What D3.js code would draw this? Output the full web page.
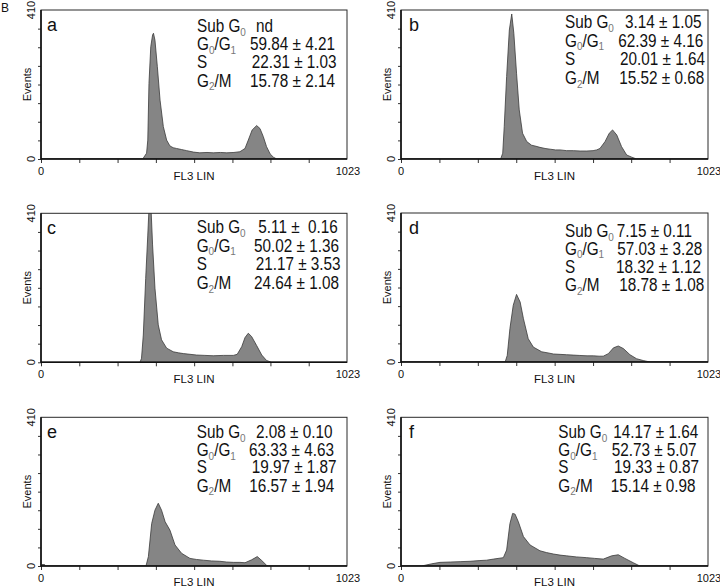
<!DOCTYPE html>
<html><head><meta charset="utf-8">
<script src="https://cdn.jsdelivr.net/npm/d3@7"></script>
<style>body{margin:0;background:#fff}svg{display:block}text{font-family:"Liberation Sans",Arial,sans-serif}</style>
</head><body><svg id="chart" width="720" height="588"></svg>
<script>
// ---------- data ----------
const panelLetters = ["a","b","c","d","e","f"];
const subG0Values = ["nd","3.14 ± 1.05","5.11 ±  0.16","7.15 ± 0.11","2.08 ± 0.10","14.17 ± 1.64"];
const g0g1Values  = ["59.84 ± 4.21","62.39 ± 4.16","50.02 ± 1.36","57.03 ± 3.28","63.33 ± 4.63","52.73 ± 5.07"];
const sValues     = ["22.31 ± 1.03","20.01 ± 1.64","21.17 ± 3.53","18.32 ± 1.12","19.97 ± 1.87","19.33 ± 0.87"];
const g2mValues   = ["15.78 ± 2.14","15.52 ± 0.68","24.64 ± 1.08","18.78 ± 1.08","16.57 ± 1.94","15.14 ± 0.98"];

const xDomain = [0, 1023];
const yDomain = [0, 410];
const xTickValues = [128, 256, 384, 512, 640, 767, 895];
const yTickValues = [51.25, 102.5, 153.75, 205, 256.25, 307.5, 358.75];
const xAxisTitle = "FL3 LIN";
const yAxisTitle = "Events";

// FL3 channel / events pairs
const aChannel = [0,340,353,357,361,367,373,376,381,389,398,409,420,431,442,453,470,487,510,531,555,576,600,621,645,665,682,693,706,721,732,743,754,766,777,788,1023];
const aEvents  = [0,0,16,52,208,309,341,346,327,254,162,89,52,36,31,29,26,23,19,17,18,17,18,17,18,20,29,52,80,92,84,62,34,14,5,0,0];
const bChannel = [0,332,339,344,352,361,369,376,385,394,405,419,435,450,463,480,497,515,530,552,574,597,619,640,652,663,680,694,705,719,735,752,769,785,1023];
const bEvents  = [0,0,16,89,227,355,399,346,236,135,71,48,38,35,32,29,27,25,25,23,23,22,22,23,25,29,48,71,80,66,34,11,5,0,0];
const cChannel = [0,331,336,342,350,357,362,367,373,381,392,403,420,442,460,476,498,520,548,576,610,643,656,671,682,693,704,721,738,754,771,1023];
const cEvents  = [0,0,11,75,231,350,440,440,323,204,103,62,39,29,26,24,22,20,19,18,19,19,22,43,68,80,71,46,20,5,0,0];
const dChannel = [0,347,354,363,374,385,397,408,424,441,469,490,508,530,552,574,596,620,641,660,674,691,708,724,741,763,785,807,830,1023];
const dEvents  = [0,0,18,92,156,186,165,119,64,41,28,25,22,21,20,19,18,17,17,16,16,23,39,44,37,20,9,4,0,0];
const eChannel = [0,1,3,12,14,351,359,370,381,392,403,415,431,448,470,498,520,543,570,598,620,643,665,682,704,723,738,754,760,1023];
const eEvents  = [0,3,4,4,0,0,26,117,154,173,154,122,99,58,35,21,18,16,14,13,11,10,10,9,17,26,15,2,0,0];
const fChannel = [0,69,102,130,165,197,230,263,285,308,341,352,363,372,380,391,408,430,463,485,508,530,552,585,619,645,674,702,724,746,774,791,796,1023];
const fEvents  = [0,0,6,10,11,12,13,15,16,19,23,44,117,145,143,122,81,58,42,37,33,30,28,25,23,21,19,28,31,21,9,2,0,0];

const channels = [aChannel,bChannel,cChannel,dChannel,eChannel,fChannel];
const events   = [aEvents,bEvents,cEvents,dEvents,eEvents,fEvents];

// ---------- layout ----------
const layout = [
  {x:41,  y:10,    w:306, h:149, labX:156,   valX:[215,209,210.7,209],     rowY:[22.3,40,58.3,76.7]},
  {x:401, y:10,    w:307, h:149, labX:164,   valX:[224,217.3,219,218.3],   rowY:[18.3,36.7,55,74]},
  {x:41,  y:213.3, w:306, h:149, labX:155.7, valX:[217.3,213,214.7,213],   rowY:[20,38.3,56.7,75.7]},
  {x:401, y:213,   w:307, h:149, labX:164,   valX:[215.7,216.3,215,218.3], rowY:[24.4,41.7,60,78.4]},
  {x:41,  y:417.3, w:306, h:148.7, labX:155.7, valX:[215,208,210.7,208.3], rowY:[21,38.7,56,74.4]},
  {x:401, y:417.3, w:307, h:148.7, labX:157.3, valX:[212.3,210.7,213,209.7], rowY:[21,38.7,56,74.4]}
];
const statFont = 15.3, subFont = 10, tickFont = 11, statStretch = 1.14;

const svg = d3.select("#chart");
svg.append("rect").attr("width",720).attr("height",588).attr("fill","#fff");
svg.append("text").attr("x",1).attr("y",11.5).attr("font-size",12).attr("fill","#111").text("B");

const defs = svg.append("defs");

panelLetters.forEach((letter, i) => {
  const L = layout[i];
  const x = d3.scaleLinear().domain(xDomain).range([0, L.w]);
  const y = d3.scaleLinear().domain(yDomain).range([L.h, 0]);
  const g = svg.append("g").attr("transform", `translate(${L.x},${L.y})`);

  defs.append("clipPath").attr("id","clip"+i)
    .append("rect").attr("x",0).attr("y",0).attr("width",L.w).attr("height",L.h);

  const data = channels[i].map((c, k) => [c, events[i][k]]);
  const area = d3.area().x(d => x(d[0])).y0(y(0)).y1(d => y(d[1]));
  g.append("path").datum(data).attr("d", area)
    .attr("clip-path", `url(#clip${i})`)
    .attr("fill", "#858585").attr("stroke", "#3a3a3a").attr("stroke-width", 0.8);

  // frame
  g.append("rect").attr("x",0).attr("y",0).attr("width",L.w).attr("height",L.h)
    .attr("fill","none").attr("stroke","#2a2a2a").attr("stroke-width",1);

  // axes
  const yAx = g.append("g").call(d3.axisLeft(y).tickValues([0, ...yTickValues]).tickSize(3).tickFormat(""));
  const xAx = g.append("g").attr("transform",`translate(0,${L.h})`)
    .call(d3.axisBottom(x).tickValues([0, ...xTickValues]).tickSize(4).tickFormat(""));
  [yAx, xAx].forEach(a => {
    a.select(".domain").remove();
    a.selectAll("line").attr("stroke","#333").attr("stroke-width",1);
  });
  g.append("line").attr("x1",0).attr("x2",0).attr("y1",0).attr("y2",L.h+0.5)
    .attr("stroke","#111").attr("stroke-width",1.6);
  g.append("line").attr("x1",0).attr("x2",L.w).attr("y1",L.h).attr("y2",L.h)
    .attr("stroke","#111").attr("stroke-width",1.6);

  // y labels (rotated)
  const ylab = (txt, yy, anchor) => g.append("text")
    .attr("transform", `translate(-6,${yy}) rotate(-90)`)
    .attr("text-anchor", anchor).attr("font-size", tickFont).attr("fill","#111").text(txt);
  ylab(String(yDomain[1]), y(yDomain[1]), "middle");
  ylab(String(yDomain[0]), y(yDomain[0]), "middle");
  g.append("text").attr("transform", `translate(-10.5,${L.h/2}) rotate(-90)`)
    .attr("text-anchor","middle").attr("font-size", tickFont).attr("fill","#111").text(yAxisTitle);

  // x labels
  g.append("text").attr("x", x(xDomain[0])).attr("y", L.h+16).attr("text-anchor","middle")
    .attr("font-size", tickFont).attr("fill","#111").text(String(xDomain[0]));
  g.append("text").attr("x", x(xDomain[1])+1).attr("y", L.h+16).attr("text-anchor","middle")
    .attr("font-size", tickFont).attr("fill","#111").text(String(xDomain[1]));
  g.append("text").attr("x", L.w/2).attr("y", L.h+20.5).attr("text-anchor","middle")
    .attr("font-size", 11.5).attr("fill","#111").text(xAxisTitle);

  // panel letter
  g.append("text").attr("x", i % 2 ? 8 : 6).attr("y", 21).attr("font-size", 18)
    .attr("fill","#111").text(letter);

  // stats
  const labels = [
    [["Sub G",false],["0",true]],
    [["G",false],["0",true],["/G",false],["1",true]],
    [["S",false]],
    [["G",false],["2",true],["/M",false]]
  ];
  const vals = [subG0Values[i], g0g1Values[i], sValues[i], g2mValues[i]];
  labels.forEach((parts, r) => {
    const lg = g.append("g").attr("transform", `translate(${L.labX},${L.rowY[r]}) scale(1,${statStretch})`);
    const t = lg.append("text").attr("x", 0).attr("y", 0)
      .attr("font-size", statFont).attr("fill","#111");
    parts.forEach(([s, sub], k) => {
      const ts = t.append("tspan").text(s);
      if (sub) ts.attr("font-size", subFont).attr("dy", 3.2).attr("fill","#777");
      else ts.attr("dy", k > 0 ? -3.2 : 0);
    });
    g.append("g").attr("transform", `translate(${L.valX[r]},${L.rowY[r]}) scale(1,${statStretch})`)
      .append("text").attr("x", 0).attr("y", 0)
      .attr("font-size", statFont).attr("fill","#111")
      .style("white-space","pre").text(vals[r]);
  });
});
</script></body></html>
